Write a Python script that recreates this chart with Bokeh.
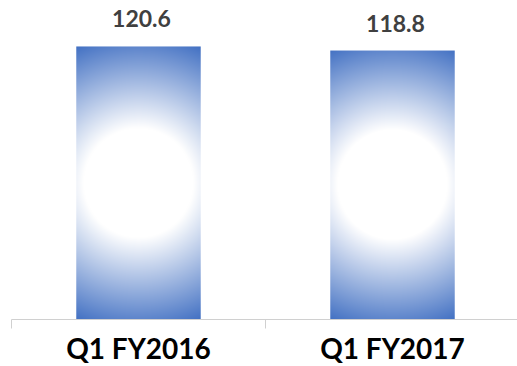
import numpy as np
from bokeh.plotting import figure
from bokeh.models import Range1d, FixedTicker, ColumnDataSource, LabelSet
from bokeh.core.properties import value
from bokeh.embed import file_html
from bokeh.resources import INLINE

categories = ["Q1 FY2016", "Q1 FY2017"]
values = [120.6, 118.8]
value_labels = ["120.6", "118.8"]

BAR_W = 0.49
FRAME_W, FRAME_H = 506, 319
PX_PER_CAT = 254
Y_MAX = 140.9

p = figure(frame_width=FRAME_W, frame_height=FRAME_H, output_backend="svg",
           toolbar_location=None, x_range=Range1d(0, FRAME_W / PX_PER_CAT),
           y_range=Range1d(0, Y_MAX), y_axis_location=None,
           min_border_left=11, min_border_right=0, min_border_top=0,
           min_border_bottom=0)
p.outline_line_color = None
p.xgrid.visible = False
p.ygrid.visible = False
p.background_fill_color = "white"
p.border_fill_color = "white"

centers = [i + 0.5 for i in range(len(categories))]

blue = np.array([68, 114, 196], dtype=float)
white = np.array([255, 255, 255], dtype=float)
px_per_unit = FRAME_H / Y_MAX

for c, v in zip(centers, values):
    w_px = int(round(BAR_W * PX_PER_CAT))
    h_px = int(round(v * px_per_unit))
    yy, xx = np.mgrid[0:h_px, 0:w_px]
    cx, cy = (w_px - 1) / 2, (h_px - 1) / 2
    d = np.hypot(xx - cx, yy - cy)
    R = np.hypot(cx, cy)
    r0 = 55.0
    t = np.clip((d - r0) / (R - r0), 0, 1)
    rgb = white[None, None, :] * (1 - t[..., None]) + blue[None, None, :] * t[..., None]
    img = np.zeros((h_px, w_px), dtype=np.uint32)
    view = img.view(dtype=np.uint8).reshape((h_px, w_px, 4))
    view[..., 0] = rgb[..., 0].astype(np.uint8)
    view[..., 1] = rgb[..., 1].astype(np.uint8)
    view[..., 2] = rgb[..., 2].astype(np.uint8)
    view[..., 3] = 255
    p.image_rgba(image=[img], x=c - BAR_W / 2, y=0, dw=BAR_W, dh=v)

src = ColumnDataSource(dict(x=centers, top=values, lab=value_labels))
p.vbar(x="x", top="top", width=BAR_W, source=src, fill_alpha=0, line_alpha=0)

labels = LabelSet(x="x", y="top", text="lab", source=src, text_align="center",
                  text_baseline="alphabetic", y_offset=19, x_offset=3,
                  text_font=value("Lato"), text_font_style="bold",
                  text_font_size="23px", text_color="#404040")
p.add_layout(labels)

ax = p.xaxis[0]
ax.ticker = FixedTicker(ticks=centers, minor_ticks=[0, 1, 2])
ax.major_label_overrides = {c: lab for c, lab in zip(centers, categories)}
ax.major_tick_out = 0
ax.major_tick_in = 0
ax.minor_tick_out = 9
ax.minor_tick_in = 0
ax.minor_tick_line_color = "#d0d0d0"
ax.axis_line_color = "#d0d0d0"
ax.major_label_standoff = 2
ax.major_label_text_font = "Lato"
ax.major_label_text_font_style = "bold"
ax.major_label_text_font_size = "28px"
ax.major_label_text_color = "#000000"

open("out.html", "w").write(file_html(p, INLINE))
